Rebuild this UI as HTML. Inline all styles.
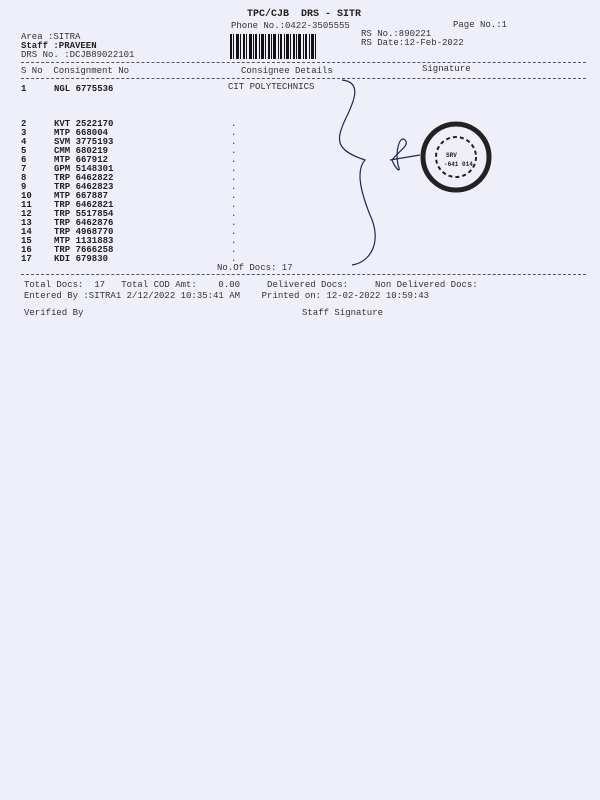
<!DOCTYPE html>
<html><head><meta charset="utf-8"><style>
body{margin:0;width:600px;height:800px;background:#efeff9;position:relative;overflow:hidden;font-family:"Liberation Mono",monospace;font-size:9px;color:#333;}
.t{position:absolute;white-space:pre;line-height:10px;}
.b{font-weight:bold;color:#222}
.l{position:absolute;border-top:1px dashed #555;height:0}
</style></head><body>
<div class="t b" style="left:247px;top:10px;font-size:10px">TPC/CJB  DRS - SITR</div>
<div class="t" style="left:231px;top:21px">Phone No.:0422-3505555</div>
<div class="t" style="left:453px;top:20px">Page No.:1</div>
<div class="t" style="left:21px;top:32px">Area :SITRA</div>
<div class="t b" style="left:21px;top:41px">Staff :PRAVEEN</div>
<div class="t" style="left:21px;top:50px">DRS No. :DCJB89022101</div>
<div class="t" style="left:361px;top:29px">RS No.:890221</div>
<div class="t" style="left:361px;top:38px">RS Date:12-Feb-2022</div>
<svg style="position:absolute;left:230px;top:34px" width="86" height="25">
<g fill="#111">
<rect x="0" y="0" width="2" height="25"/><rect x="3" y="0" width="1" height="25"/><rect x="6" y="0" width="3" height="25"/><rect x="10" y="0" width="1" height="25"/><rect x="13" y="0" width="2" height="25"/><rect x="16" y="0" width="1" height="25"/><rect x="19" y="0" width="3" height="25"/><rect x="23" y="0" width="1" height="25"/><rect x="25" y="0" width="2" height="25"/><rect x="29" y="0" width="1" height="25"/><rect x="31" y="0" width="3" height="25"/><rect x="35" y="0" width="1" height="25"/><rect x="38" y="0" width="2" height="25"/><rect x="41" y="0" width="1" height="25"/><rect x="43" y="0" width="3" height="25"/><rect x="48" y="0" width="1" height="25"/><rect x="50" y="0" width="2" height="25"/><rect x="54" y="0" width="1" height="25"/><rect x="56" y="0" width="3" height="25"/><rect x="60" y="0" width="1" height="25"/><rect x="63" y="0" width="2" height="25"/><rect x="66" y="0" width="1" height="25"/><rect x="68" y="0" width="3" height="25"/><rect x="73" y="0" width="1" height="25"/><rect x="75" y="0" width="2" height="25"/><rect x="79" y="0" width="1" height="25"/><rect x="81" y="0" width="3" height="25"/><rect x="85" y="0" width="1" height="25"/>
</g></svg>
<div class="l" style="left:21px;top:62px;width:565px"></div>
<div class="t" style="left:21px;top:66px">S No  Consignment No</div>
<div class="t" style="left:241px;top:66px">Consignee Details</div>
<div class="t" style="left:422px;top:64px">Signature</div>
<div class="l" style="left:21px;top:78px;width:565px"></div>
<div class="t b" style="left:21px;top:84px">1</div>
<div class="t b" style="left:54px;top:84px">NGL 6775536</div>
<div class="t" style="left:228px;top:82px">CIT POLYTECHNICS</div>
<div class="t b" style="left:21px;top:120px;line-height:9px">2
3
4
5
6
7
8
9
10
11
12
13
14
15
16
17</div>
<div class="t b" style="left:54px;top:120px;line-height:9px">KVT 2522170
MTP 668004
SVM 3775193
CMM 680219
MTP 667912
GPM 5148301
TRP 6462822
TRP 6462823
MTP 667887
TRP 6462821
TRP 5517854
TRP 6462876
TRP 4968770
MTP 1131883
TRP 7666258
KDI 679830</div>
<div class="t" style="left:231px;top:120px;line-height:9px">.
.
.
.
.
.
.
.
.
.
.
.
.
.
.
.</div>
<div class="t" style="left:217px;top:263px">No.Of Docs: 17</div>
<div class="l" style="left:21px;top:274px;width:565px"></div>
<div class="t" style="left:24px;top:280px">Total Docs:  17   Total COD Amt:    0.00     Delivered Docs:     Non Delivered Docs:</div>
<div class="t" style="left:24px;top:291px">Entered By :SITRA1 2/12/2022 10:35:41 AM    Printed on: 12-02-2022 10:59:43</div>
<div class="t" style="left:24px;top:308px">Verified By</div>
<div class="t" style="left:302px;top:308px">Staff Signature</div>
<svg style="position:absolute;left:0;top:0" width="600" height="320">
<path d="M342 80 C362 82 355 100 345 120 C336 140 335 150 365 160 C356 170 360 190 370 215 C382 240 372 262 352 265" fill="none" stroke="#1a2a55" stroke-width="1.2"/>
<path d="M392 160 C400 150 410 145 405 140 C400 135 395 150 398 165 C402 175 395 168 392 160 Z M390 160 L420 155" fill="none" stroke="#1a2a55" stroke-width="1.2"/>
<circle cx="456" cy="157" r="33" fill="none" stroke="#222" stroke-width="5"/>
<circle cx="456" cy="157" r="20" fill="none" stroke="#222" stroke-width="2" stroke-dasharray="4 3"/>
<text x="446" y="157" font-family="Liberation Mono" font-size="6" font-weight="bold" fill="#222">SRV</text>
<text x="444" y="166" font-family="Liberation Mono" font-size="6" font-weight="bold" fill="#222">-641 014</text>
</svg>
</body></html>
